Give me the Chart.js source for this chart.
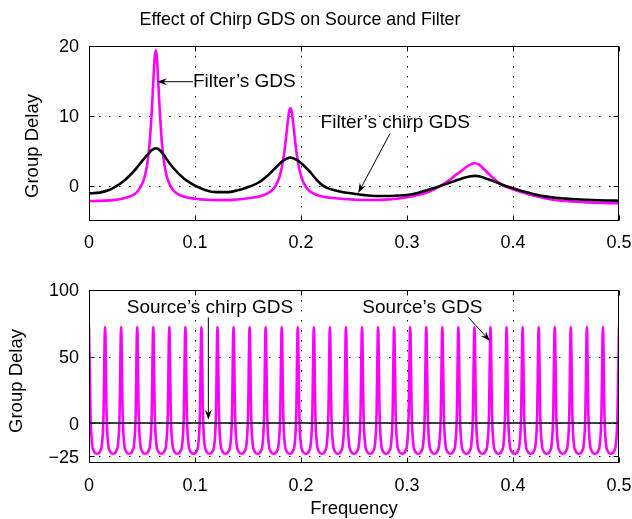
<!DOCTYPE html>
<html>
<head>
<meta charset="utf-8">
<script src="https://cdn.jsdelivr.net/npm/chart.js@4.4.1/dist/chart.umd.min.js"></script>
<style>
  html, body { margin: 0; padding: 0; background: #fff; }
  #wrap { position: relative; width: 632px; height: 519px; }
  canvas { position: absolute; left: 0; }
</style>
</head>
<body>
<div id="wrap">
  <canvas id="filterChart" width="632" height="260" style="top:0"></canvas>
  <canvas id="sourceChart" width="632" height="259" style="top:260px"></canvas>
</div>
<script>
// Top panel: filter group delay
const filterFreq = [
  0, 0.01, 0.02, 0.025, 0.03, 0.035, 0.04, 0.045, 0.05, 0.053,
  0.055, 0.057, 0.059, 0.06, 0.061, 0.062, 0.063, 0.064, 0.065, 0.066,
  0.067, 0.069, 0.071, 0.073, 0.076, 0.08, 0.085, 0.09, 0.1, 0.11,
  0.12, 0.13, 0.14, 0.15, 0.155, 0.16, 0.165, 0.17, 0.173, 0.176, 0.179,
  0.181, 0.183, 0.185, 0.186, 0.187, 0.188, 0.189, 0.19, 0.191, 0.192,
  0.193, 0.194, 0.195, 0.197, 0.199, 0.201, 0.204, 0.207, 0.21, 0.215,
  0.22, 0.225, 0.23, 0.24, 0.25, 0.26, 0.27, 0.28, 0.29, 0.3, 0.31,
  0.32, 0.33, 0.34, 0.345, 0.35, 0.355, 0.36, 0.364, 0.368, 0.373,
  0.378, 0.385, 0.39, 0.4, 0.41, 0.42, 0.43, 0.44, 0.45, 0.46,
  0.47, 0.48, 0.49, 0.5
];
const filterGds = [
  -2.15, -2.12, -2.05, -1.98, -1.85, -1.68, -1.42, -0.9, 0.24, 1.6,
  3.2, 5.8, 10.1, 12.9, 15.9, 18.4, 19.4, 18.4, 15.9, 12.9,
  10.1, 5.8, 3.2, 1.6, 0.24, -0.7, -1.25, -1.55, -1.82, -1.95,
  -2.02, -2.02, -1.92, -1.75, -1.64, -1.5, -1.29, -0.92, -0.55, 0.03, 1.0,
  2.03, 3.55, 5.73, 7.07, 8.48, 9.79, 10.75, 11.1, 10.75, 9.79,
  8.48, 7.07, 5.73, 3.55, 2.03, 1.0, 0.03, -0.55, -0.92, -1.29,
  -1.5, -1.63, -1.72, -1.86, -1.95, -2.0, -2.0, -1.95, -1.83, -1.62, -1.3,
  -0.85, -0.12, 0.85, 1.45, 2.0, 2.6, 3.08, 3.25, 3.05, 2.35,
  1.6, 0.65, 0.12, -0.45, -0.95, -1.4, -1.75, -2.0, -2.15, -2.26,
  -2.34, -2.4, -2.45, -2.48
];
const filterChirpGds = [
  -1.05, -0.95, -0.5, -0.1, 0.4, 1.0, 1.75, 2.6, 3.55, 4.1,
  4.45, 4.8, 5.1, 5.2, 5.3, 5.37, 5.4, 5.37, 5.3, 5.2,
  5.08, 4.75, 4.35, 3.9, 3.25, 2.5, 1.7, 1.0, 0.05, -0.6,
  -0.88, -0.88, -0.62, -0.15, 0.12, 0.5, 1.05, 1.7, 2.15, 2.6, 3.05,
  3.35, 3.6, 3.8, 3.88, 3.95, 4.0, 4.03, 4.05, 4.03, 4.0,
  3.95, 3.88, 3.8, 3.62, 3.4, 3.15, 2.72, 2.25, 1.75, 0.85,
  0.12, -0.3, -0.55, -0.88, -1.1, -1.3, -1.42, -1.43, -1.38, -1.29, -1.0,
  -0.55, -0.08, 0.45, 0.72, 0.97, 1.2, 1.38, 1.45, 1.4, 1.15,
  0.88, 0.48, 0.18, -0.33, -0.8, -1.18, -1.48, -1.68, -1.8, -1.9,
  -1.97, -2.03, -2.07, -2.1
];

// Bottom panel: source group delay, one row per ripple (33 ripples over 0..0.5)
const sourceGds = [
  72, 4, -16.5, -21, -22.7, -23, -22.7, -21, -16.5, 4,
  72, 4, -16.5, -21, -22.7, -23, -22.7, -21, -16.5, 4,
  72, 4, -16.5, -21, -22.7, -23, -22.7, -21, -16.5, 4,
  72, 4, -16.5, -21, -22.7, -23, -22.7, -21, -16.5, 4,
  72, 4, -16.5, -21, -22.7, -23, -22.7, -21, -16.5, 4,
  72, 4, -16.5, -21, -22.7, -23, -22.7, -21, -16.5, 4,
  72, 4, -16.5, -21, -22.7, -23, -22.7, -21, -16.5, 4,
  72, 4, -16.5, -21, -22.7, -23, -22.7, -21, -16.5, 4,
  72, 4, -16.5, -21, -22.7, -23, -22.7, -21, -16.5, 4,
  72, 4, -16.5, -21, -22.7, -23, -22.7, -21, -16.5, 4,
  72, 4, -16.5, -21, -22.7, -23, -22.7, -21, -16.5, 4,
  72, 4, -16.5, -21, -22.7, -23, -22.7, -21, -16.5, 4,
  72, 4, -16.5, -21, -22.7, -23, -22.7, -21, -16.5, 4,
  72, 4, -16.5, -21, -22.7, -23, -22.7, -21, -16.5, 4,
  72, 4, -16.5, -21, -22.7, -23, -22.7, -21, -16.5, 4,
  72, 4, -16.5, -21, -22.7, -23, -22.7, -21, -16.5, 4,
  72, 4, -16.5, -21, -22.7, -23, -22.7, -21, -16.5, 4,
  72, 4, -16.5, -21, -22.7, -23, -22.7, -21, -16.5, 4,
  72, 4, -16.5, -21, -22.7, -23, -22.7, -21, -16.5, 4,
  72, 4, -16.5, -21, -22.7, -23, -22.7, -21, -16.5, 4,
  72, 4, -16.5, -21, -22.7, -23, -22.7, -21, -16.5, 4,
  72, 4, -16.5, -21, -22.7, -23, -22.7, -21, -16.5, 4,
  72, 4, -16.5, -21, -22.7, -23, -22.7, -21, -16.5, 4,
  72, 4, -16.5, -21, -22.7, -23, -22.7, -21, -16.5, 4,
  72, 4, -16.5, -21, -22.7, -23, -22.7, -21, -16.5, 4,
  72, 4, -16.5, -21, -22.7, -23, -22.7, -21, -16.5, 4,
  72, 4, -16.5, -21, -22.7, -23, -22.7, -21, -16.5, 4,
  72, 4, -16.5, -21, -22.7, -23, -22.7, -21, -16.5, 4,
  72, 4, -16.5, -21, -22.7, -23, -22.7, -21, -16.5, 4,
  72, 4, -16.5, -21, -22.7, -23, -22.7, -21, -16.5, 4,
  72, 4, -16.5, -21, -22.7, -23, -22.7, -21, -16.5, 4,
  72, 4, -16.5, -21, -22.7, -23, -22.7, -21, -16.5, 4,
  72, 4, -16.5, -21, -22.7, -23, -22.7, -21, -16.5, 4,
  72
];
const sourceChirpFreq = [0, 0.5];
const sourceChirpGds = [0, 0];

const freqTicks = [0, 0.1, 0.2, 0.3, 0.4, 0.5];
const filterDelayTicks = [0, 10, 20];
const sourceDelayTicks = [-25, 0, 50, 100];

const FONT = '"Liberation Sans", Arial, Helvetica, sans-serif';
const MAGENTA = '#ff00ff';

function fmt(v) {
  return v < 0 ? '\u2212' + Math.abs(v) : String(v);
}

function arrow(ctx, x1, y1, x2, y2) {
  const ang = Math.atan2(y2 - y1, x2 - x1);
  const c = Math.cos(ang), s = Math.sin(ang);
  const len = 10, half = 3.5, back = 6.5;
  ctx.beginPath();
  ctx.moveTo(x1, y1);
  ctx.lineTo(x2 - back * c, y2 - back * s);
  ctx.stroke();
  ctx.beginPath();
  ctx.moveTo(x2, y2);
  ctx.lineTo(x2 - len * c + half * s, y2 - len * s - half * c);
  ctx.lineTo(x2 - back * c, y2 - back * s);
  ctx.lineTo(x2 - len * c - half * s, y2 - len * s + half * c);
  ctx.closePath();
  ctx.fill();
}

// MATLAB-like axes: dotted grid, boxed frame, inward ticks, labels, notes
const matlabAxes = {
  id: 'matlabAxes',
  beforeDatasetsDraw(chart, args, o) {
    const { ctx, chartArea: a, scales: { x, y } } = chart;
    ctx.save();
    ctx.strokeStyle = '#000';
    ctx.lineWidth = 1;
    ctx.setLineDash([1.5, 8.5]);
    o.xTicks.forEach(v => {
      const px = Math.round(x.getPixelForValue(v)) + 0.5;
      if (px <= a.left + 2 || px >= a.right - 2) return;
      ctx.beginPath(); ctx.moveTo(px, a.top); ctx.lineTo(px, a.bottom); ctx.stroke();
    });
    o.yTicks.forEach(v => {
      const py = Math.round(y.getPixelForValue(v)) + 0.5;
      if (py <= a.top + 2 || py >= a.bottom - 2) return;
      ctx.beginPath(); ctx.moveTo(a.left, py); ctx.lineTo(a.right, py); ctx.stroke();
    });
    ctx.restore();
  },
  afterDatasetsDraw(chart, args, o) {
    const { ctx, chartArea: a, scales: { x, y } } = chart;
    ctx.save();
    ctx.strokeStyle = '#000';
    ctx.lineWidth = 1;
    const L = Math.round(a.left) + 0.5, R = Math.round(a.right) - 0.5;
    const T = Math.round(a.top) + 0.5, B = Math.round(a.bottom) - 0.5;
    ctx.strokeRect(L, T, R - L, B - T);
    const tl = 5;
    ctx.beginPath();
    o.xTicks.forEach(v => {
      const px = Math.round(x.getPixelForValue(v)) + 0.5;
      ctx.moveTo(px, B); ctx.lineTo(px, B - tl);
      ctx.moveTo(px, T); ctx.lineTo(px, T + tl);
    });
    o.yTicks.forEach(v => {
      const py = Math.round(y.getPixelForValue(v)) + 0.5;
      ctx.moveTo(L, py); ctx.lineTo(L + tl, py);
      ctx.moveTo(R, py); ctx.lineTo(R - tl, py);
    });
    ctx.stroke();

    // tick labels
    ctx.fillStyle = '#000';
    ctx.font = '18px ' + FONT;
    ctx.textAlign = 'center';
    ctx.textBaseline = 'middle';
    o.xTicks.forEach(v => {
      ctx.fillText(fmt(v), x.getPixelForValue(v), a.bottom + o.xLabelGap);
    });
    ctx.textAlign = 'right';
    o.yTicks.forEach(v => {
      ctx.fillText(fmt(v), a.left - 10, y.getPixelForValue(v) + 1.5);
    });

    // axis titles
    ctx.font = '18.5px ' + FONT;
    ctx.save();
    ctx.translate(o.yTitle.x, o.yTitle.y);
    ctx.rotate(-Math.PI / 2);
    ctx.textAlign = 'center';
    ctx.fillText(o.yTitle.text, 0, 0);
    ctx.restore();
    if (o.xTitle) {
      ctx.textAlign = 'center';
      ctx.fillText(o.xTitle.text, (a.left + a.right) / 2, o.xTitle.y);
    }
    if (o.title) {
      ctx.font = '17.8px ' + FONT;
      ctx.textAlign = 'center';
      ctx.fillText(o.title.text, o.title.x, o.title.y);
    }

    // text notes with arrows, placed in data coordinates
    ctx.font = '19px ' + FONT;
    ctx.textAlign = 'left';
    o.notes.forEach(n => {
      ctx.fillText(n.text, x.getPixelForValue(n.at[0]), y.getPixelForValue(n.at[1]));
      arrow(ctx,
        x.getPixelForValue(n.from[0]), y.getPixelForValue(n.from[1]),
        x.getPixelForValue(n.to[0]), y.getPixelForValue(n.to[1]));
    });
    ctx.restore();
  }
};

function lineSet(xs, ys, color, width) {
  return {
    data: xs.map((f, i) => ({ x: f, y: ys[i] })),
    borderColor: color,
    borderWidth: width,
    pointRadius: 0,
    fill: false,
    cubicInterpolationMode: 'monotone',
    borderJoinStyle: 'round',
    borderCapStyle: 'round'
  };
}

const sourceFreq = sourceGds.map((_, i) => i * 0.5 / (sourceGds.length - 1));

new Chart(document.getElementById('filterChart'), {
  type: 'line',
  data: {
    datasets: [
      lineSet(filterFreq, filterChirpGds, '#000', 2.6),
      lineSet(filterFreq, filterGds, MAGENTA, 2.6)
    ]
  },
  options: {
    responsive: false,
    animation: false,
    layout: { padding: { left: 89, right: 13, top: 46, bottom: 39 } },
    scales: {
      x: { type: 'linear', min: 0, max: 0.5, display: false },
      y: { type: 'linear', min: -5, max: 20, display: false }
    },
    plugins: {
      legend: { display: false },
      tooltip: { enabled: false },
      matlabAxes: {
        xTicks: freqTicks,
        yTicks: filterDelayTicks,
        xLabelGap: 22.5,
        yTitle: { text: 'Group Delay', x: 33, y: 146 },
        title: { text: 'Effect of Chirp GDS on Source and Filter', x: 300, y: 20 },
        notes: [
          { text: 'Filter\u2019s GDS', at: [0.0981, 14.9], from: [0.0981, 14.9], to: [0.0642, 14.9] },
          { text: 'Filter\u2019s chirp GDS', at: [0.2185, 9.0], from: [0.284, 7.5], to: [0.254, -1.0] }
        ]
      }
    }
  },
  plugins: [matlabAxes]
});

new Chart(document.getElementById('sourceChart'), {
  type: 'line',
  data: {
    datasets: [
      lineSet(sourceChirpFreq, sourceChirpGds, '#000', 1.5),
      lineSet(sourceFreq, sourceGds, MAGENTA, 2.6)
    ]
  },
  options: {
    responsive: false,
    animation: false,
    layout: { padding: { left: 89, right: 13, top: 30, bottom: 56 } },
    scales: {
      x: { type: 'linear', min: 0, max: 0.5, display: false },
      y: { type: 'linear', min: -30, max: 100, display: false }
    },
    plugins: {
      legend: { display: false },
      tooltip: { enabled: false },
      matlabAxes: {
        xTicks: freqTicks,
        yTicks: sourceDelayTicks,
        xLabelGap: 23,
        yTitle: { text: 'Group Delay', x: 17, y: 121 },
        xTitle: { text: 'Frequency', y: 249 },
        notes: [
          { text: 'Source\u2019s chirp GDS', at: [0.0356, 86.9], from: [0.1126, 79.4], to: [0.1126, 2.5] },
          { text: 'Source\u2019s GDS', at: [0.2579, 86.9], from: [0.358, 79.4], to: [0.3783, 61.6] }
        ]
      }
    }
  },
  plugins: [matlabAxes]
});
</script>
</body>
</html>
